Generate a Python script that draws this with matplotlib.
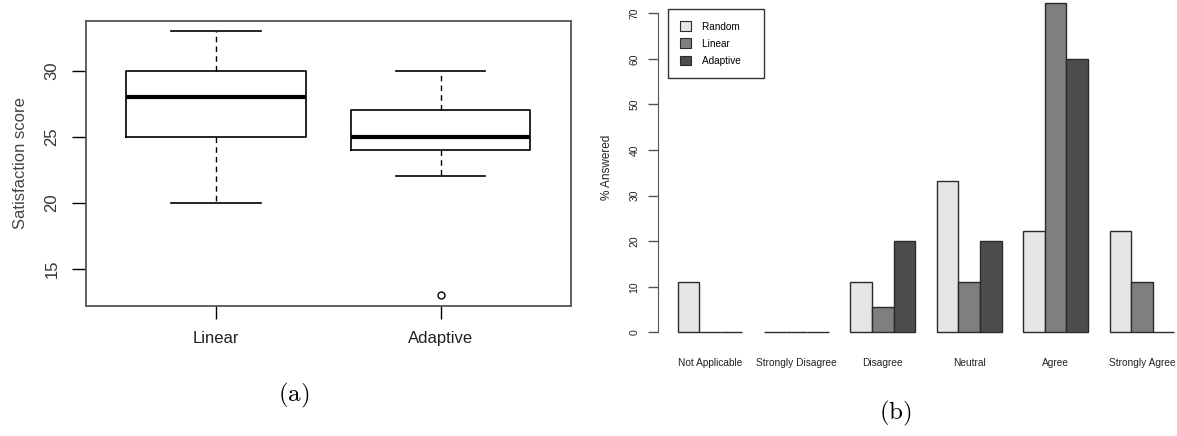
import matplotlib
matplotlib.use("Agg")
import matplotlib.pyplot as plt
from matplotlib.patches import Patch

plt.rcParams['font.family'] = ['Liberation Sans', 'DejaVu Sans']
plt.rcParams['mathtext.fontset'] = 'cm'

# Panel (a): satisfaction score boxplots
grupos = ["Linear", "Adaptive"]
whisker_low = [20, 22]
quartil_1 = [25, 24]
mediana = [28, 25]
quartil_3 = [30, 27]
whisker_high = [33, 30]
outliers = [[], [13]]

# Panel (b): % answered per category
categorias = ["Not Applicable", "Strongly Disagree", "Disagree", "Neutral", "Agree", "Strongly Agree"]
series = ["Random", "Linear", "Adaptive"]
random_vals = [11.1, 0, 11.1, 33.3, 22.2, 22.2]
linear_vals = [0, 0, 5.6, 11.1, 72.2, 11.1]
adaptive_vals = [0, 0, 20, 20, 60, 0]
cores = ["#E6E6E6", "#7F7F7F", "#4D4D4D"]

W, H = 1177, 436
fig = plt.figure(figsize=(W / 100, H / 100), dpi=100)

# ---------- (a) ----------
ax1 = fig.add_axes([86 / W, (H - 305.7) / H, 484.7 / W, 285 / H])
stats = []
for i in range(len(grupos)):
    stats.append({
        "label": grupos[i], "whislo": whisker_low[i], "q1": quartil_1[i],
        "med": mediana[i], "q3": quartil_3[i], "whishi": whisker_high[i],
        "fliers": outliers[i],
    })
ax1.bxp(stats, positions=[1, 2], widths=0.8, showfliers=True,
        boxprops=dict(color="black", linewidth=1.2),
        medianprops=dict(color="black", linewidth=3),
        whiskerprops=dict(color="black", linewidth=1, linestyle=(0, (4, 3))),
        capprops=dict(color="black", linewidth=1.2),
        capwidths=0.4,
        flierprops=dict(marker="o", markersize=5, markerfacecolor="none",
                        markeredgecolor="black", markeredgewidth=1))
ax1.set_xlim(0.42, 2.58)
ax1.set_ylim(12.2, 33.8)
ax1.set_yticks([15, 20, 25, 30])
ax1.set_xticks([1, 2])
ax1.set_xticklabels(grupos)
for s in ax1.spines.values():
    s.set_color("#555555")
    s.set_linewidth(1.3)
ax1.tick_params(axis="y", direction="out", length=10, width=1, pad=9,
                labelsize=12, labelcolor="#333333", labelrotation=90)
for lab in ax1.get_yticklabels():
    lab.set_verticalalignment("center")
ax1.tick_params(axis="x", direction="out", length=9, width=1, pad=9,
                labelsize=12, labelcolor="#222222")
ax1.set_ylabel("Satisfaction score", fontsize=12, color="#444444", labelpad=12)

# ---------- (b) ----------
ax2 = fig.add_axes([657.7 / W, (H - 345.5) / H, 536.5 / W, 355.5 / H])
valores = [random_vals, linear_vals, adaptive_vals]
for j, (nome, vals) in enumerate(zip(series, valores)):
    xs = [1 + g * 4 + j for g in range(len(categorias))]
    ax2.bar(xs, vals, width=1, align="edge", color=cores[j],
            edgecolor="#2a2a2a", linewidth=1.0, label=nome)
ax2.set_xlim(0.08, 24.92)
ax2.set_ylim(-2.89, 75.1)
for lado in ["top", "right", "bottom"]:
    ax2.spines[lado].set_visible(False)
ax2.spines["left"].set_bounds(0, 70)
ax2.spines["left"].set_color("#555555")
ax2.set_yticks(range(0, 80, 10))
ax2.tick_params(axis="y", direction="out", length=7, width=1, pad=6,
                labelsize=7.5, labelrotation=90, colors="#555555",
                labelcolor="#222222")
for lab in ax2.get_yticklabels():
    lab.set_verticalalignment("center")
ax2.set_xticks([1 + g * 4 + 1.5 for g in range(len(categorias))])
ax2.set_xticklabels(categorias)
ax2.tick_params(axis="x", length=0, pad=9, labelsize=7.3, labelcolor="#222222")
ax2.set_ylabel("% Answered", fontsize=8.5, color="#222222", labelpad=12)

handles = [Patch(facecolor=cores[j], edgecolor="#2a2a2a", linewidth=0.8) for j in range(3)]
leg = fig.legend(handles, [s + "    " for s in series], loc="upper left",
                 bbox_to_anchor=(668 / W, 1 - 9.3 / H), bbox_transform=fig.transFigure,
                 fontsize=7.2, frameon=True, fancybox=False, borderaxespad=0,
                 handlelength=1.1, handleheight=1.1, handletextpad=1.1,
                 labelspacing=0.7, borderpad=1.2)
leg.get_frame().set_edgecolor("black")
leg.get_frame().set_linewidth(1.0)

# captions
fig.text(294 / W, 1 - 395 / H, r"$\mathrm{(a)}$", fontsize=18, ha="center", va="center")
fig.text(895 / W, 1 - 413 / H, r"$\mathrm{(b)}$", fontsize=18, ha="center", va="center")

fig.savefig("out.png", dpi=100)
